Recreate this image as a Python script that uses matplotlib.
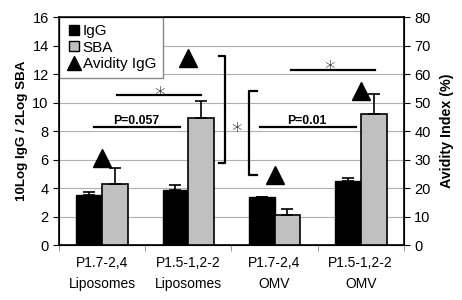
import matplotlib.pyplot as plt
import numpy as np
from matplotlib.lines import Line2D

plt.rcParams['font.family'] = ['Liberation Sans', 'DejaVu Sans']

# data
groups = ['P1.7-2,4\nLiposomes', 'P1.5-1,2-2\nLiposomes', 'P1.7-2,4\nOMV', 'P1.5-1,2-2\nOMV']
igg = [3.55, 3.9, 3.4, 4.5]
igg_err = [0.15, 0.3, 0.0, 0.2]
sba = [4.3, 8.9, 2.1, 9.2]
sba_err = [1.1, 1.2, 0.45, 1.4]
avidity = [30.4, 65.8, 24.6, 53.9]

x = np.arange(len(groups))
w = 0.3

fig = plt.figure(figsize=(4.62, 3.0), dpi=100)
ax = fig.add_axes([0.128, 0.183, 0.746, 0.76])

ax.bar(x - w / 2, igg, w, color='black', edgecolor='black', linewidth=1, zorder=3)
ax.bar(x + w / 2, sba, w, color='#c0c0c0', edgecolor='black', linewidth=1.2, zorder=3)
ax.errorbar(x - w / 2, igg, yerr=[np.zeros(4), igg_err], fmt='none', ecolor='black',
            elinewidth=1.2, capsize=4, capthick=1.2, zorder=4)
ax.errorbar(x + w / 2, sba, yerr=[np.zeros(4), sba_err], fmt='none', ecolor='black',
            elinewidth=1.2, capsize=4, capthick=1.2, zorder=4)

ax.set_xlim(-0.5, 3.5)
ax.set_ylim(0, 16)
ax.set_yticks(range(0, 17, 2))
ax.set_xticks(x)
ax.set_xticklabels(groups, fontsize=10, linespacing=1.6)
ax.set_xticks(np.arange(-0.5, 4, 1), minor=True)
ax.tick_params(axis='x', which='major', length=0, pad=8)
ax.tick_params(axis='x', which='minor', length=4, color='#888888')
ax.tick_params(axis='y', labelsize=10.5, length=4)
ax.grid(axis='y', color='#b0b0b0', linewidth=0.8, zorder=0)
ax.set_axisbelow(True)
ax.set_ylabel('10Log IgG / 2Log SBA', fontsize=9.6, fontweight='bold', labelpad=3)
for s in ax.spines.values():
    s.set_linewidth(1.2)

ax2 = ax.twinx()
ax2.set_ylim(0, 80)
ax2.set_yticks(range(0, 81, 10))
ax2.tick_params(axis='y', labelsize=10.5, length=4)
ax2.plot(x, avidity, '^', color='black', markersize=13, zorder=5)
ax2.set_ylabel('Avidity Index (%)', fontsize=10.3, fontweight='bold', labelpad=7)

# significance marks
lk = dict(color='black', linewidth=1.6, clip_on=False)
sk = dict(ha='center', va='center_baseline', fontsize=15, family='DejaVu Sans',
          fontweight='light')
pk = dict(ha='center', va='baseline', fontsize=8.8, fontweight='bold')
ax.plot([-0.09, 0.9], [8.28, 8.28], **lk)
ax.text(0.4, 8.5, 'P=0.057', **pk)
ax.plot([0.17, 1.15], [10.5, 10.5], **lk)
ax.text(0.66, 10.6, '*', **sk)
ax.plot([1.35, 1.43, 1.43, 1.35], [13.3, 13.3, 5.75, 5.75], **lk)
ax.text(1.56, 8.1, '*', **sk)
ax.plot([1.8, 1.70, 1.70, 1.8], [10.83, 10.83, 4.9, 4.9], **lk)
ax.plot([1.83, 2.95], [8.3, 8.3], **lk)
ax.text(2.37, 8.5, 'P=0.01', **pk)
ax.plot([2.19, 3.17], [12.26, 12.26], **lk)
ax.text(2.64, 12.45, '*', **sk)

handles = [
    Line2D([], [], marker='s', ls='none', color='black', markersize=7.5),
    Line2D([], [], marker='s', ls='none', markerfacecolor='#c0c0c0', markeredgecolor='black', markersize=7.5),
    Line2D([], [], marker='^', ls='none', color='black', markersize=10),
]
leg = ax.legend(handles, ['IgG', 'SBA', 'Avidity IgG'], loc='upper left', bbox_to_anchor=(0, 1),
                borderaxespad=0, fontsize=11, fancybox=False, framealpha=1,
                handletextpad=0.1, handlelength=1.0, borderpad=0.45, labelspacing=0.18)
leg.get_frame().set_edgecolor('#888888')
leg.set_zorder(10)

fig.savefig('out.png', dpi=100)
